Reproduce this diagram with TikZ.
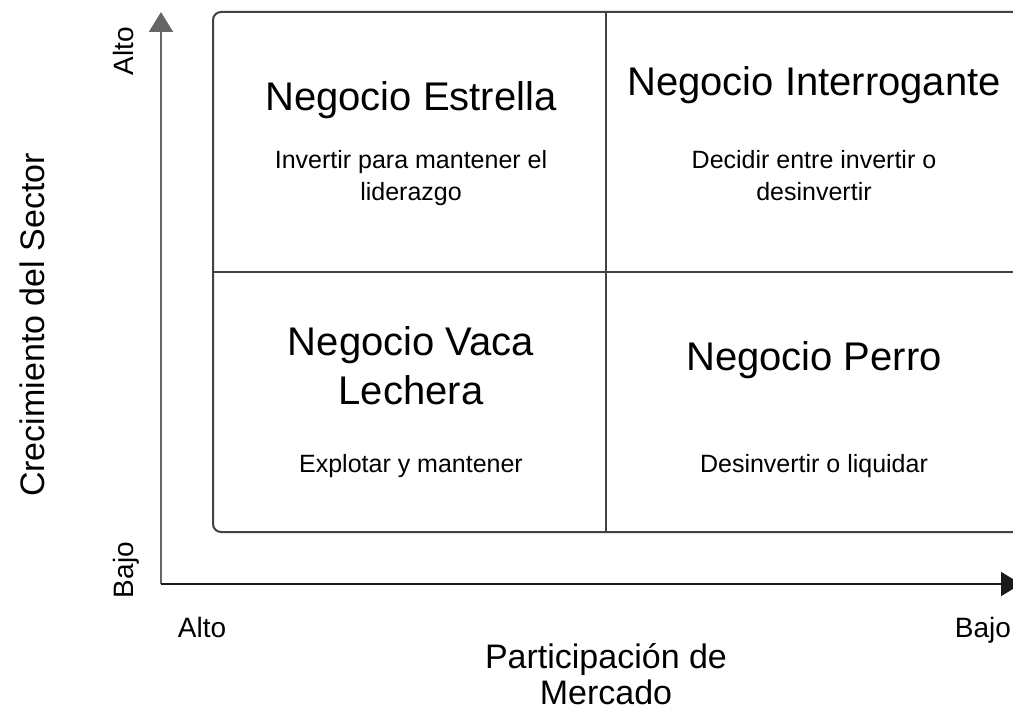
\documentclass[tikz,border=0pt]{standalone}
\usepackage{fontspec}
\setmainfont{Liberation Sans}
\usetikzlibrary{arrows.meta}
\definecolor{boxline}{HTML}{3C434A}
\definecolor{axisgray}{HTML}{666666}
\definecolor{axisdark}{HTML}{1A1A1A}
\tikzset{
  title/.style={anchor=base, inner sep=0pt, font=\fontsize{40}{48}\selectfont},
  desc/.style={anchor=base, inner sep=0pt, font=\fontsize{25}{30}\selectfont},
  axlabel/.style={anchor=base, inner sep=0pt, font=\fontsize{34}{40}\selectfont},
  tick/.style={anchor=base, inner sep=0pt, font=\fontsize{28}{34}\selectfont},
}
\begin{document}
\begin{tikzpicture}[x=1pt,y=-1pt]
\useasboundingbox (0,0) rectangle (1013,711);
% matrix box
\draw[boxline, line width=2pt, rounded corners=8pt] (213,12) rectangle (1021,532);
\coordinate (vtop) at (606,12);
\coordinate (vbot) at (606,532);
\coordinate (hleft) at (213,272);
\coordinate (hright) at (1021,272);
\draw[boxline, line width=2pt] (vtop) -- (vbot);
\draw[boxline, line width=2pt] (hleft) -- (hright);
% axes
\coordinate (origin) at (161,584);
\coordinate (ytop) at (161,12);
\coordinate (xend) at (1021,584);
\draw[axisgray, line width=2pt, -{Triangle[width=24pt,length=20pt]}] (origin) -- (ytop);
\draw[axisdark, line width=2pt, -{Triangle[width=24pt,length=20pt]}] (origin) -- (xend);
% quadrant texts
\node[title] (t1) at (411,111) {Negocio Estrella};
\node[desc] (d1a) at (411,169) {Invertir para mantener el};
\node[desc] (d1b) at (411,201) {liderazgo};
\node[title] (t2) at (814,96) {Negocio Interrogante};
\node[desc] (d2a) at (814,169) {Decidir entre invertir o};
\node[desc] (d2b) at (814,201) {desinvertir};
\node[title] (t3a) at (411,356) {Negocio Vaca};
\node[title] (t3b) at (411,405) {Lechera};
\node[desc] (d3) at (411,472) {Explotar y mantener};
\node[title] (t4) at (814,371) {Negocio Perro};
\node[desc] (d4) at (814,472) {Desinvertir o liquidar};
% axis labels
\node[axlabel, rotate=90] (ylab) at (44,325) {Crecimiento del Sector};
\node[tick, rotate=90] (yalto) at (133,51) {Alto};
\node[tick, rotate=90] (ybajo) at (133,570) {Bajo};
\node[tick] (xalto) at (202,637) {Alto};
\node[tick] (xbajo) at (983,637) {Bajo};
\node[axlabel] (xlab1) at (606,668) {Participación de};
\node[axlabel] (xlab2) at (606,704) {Mercado};
\end{tikzpicture}
\end{document}
